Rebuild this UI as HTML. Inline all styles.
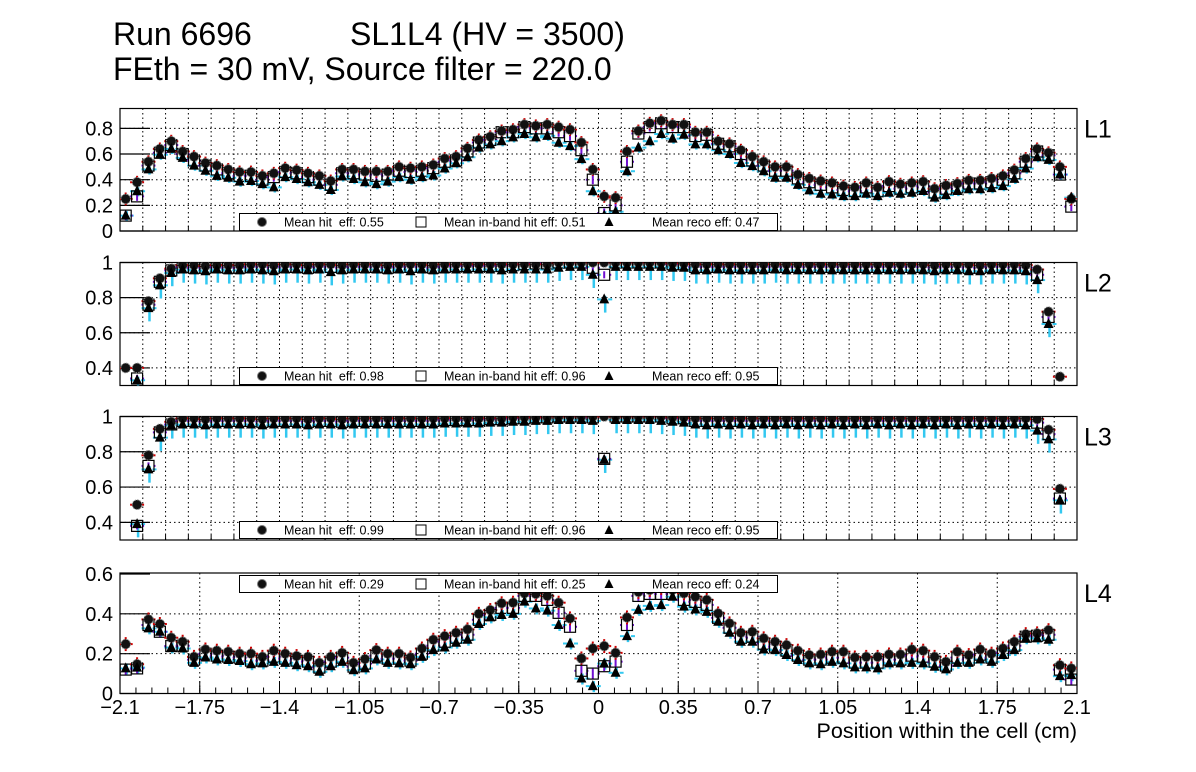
<!DOCTYPE html>
<html><head><meta charset="utf-8"><style>
html,body{margin:0;padding:0;background:#fff;}
svg{display:block;font-family:"Liberation Sans",sans-serif;}
</style></head><body>
<svg id="c" width="1196" height="772" viewBox="0 0 1196 772" xmlns="http://www.w3.org/2000/svg">
<rect width="1196" height="772" fill="#fff"/>
<text x="113" y="45" font-size="32">Run 6696</text>
<text x="350" y="45" font-size="32">SL1L4 (HV = 3500)</text>
<text x="113" y="80" font-size="32">FEth = 30 mV, Source filter = 220.0</text>
<text x="1077" y="738" font-size="21.5" text-anchor="end">Position within the cell (cm)</text>
<g id="plots"></g>
</svg>
<script>
const binCount = 84;
const xMin = -2.1, xMax = 2.1;
const xTickLabels = ["\u22122.1","\u22121.75","\u22121.4","\u22121.05","\u22120.7","\u22120.35","0","0.35","0.7","1.05","1.4","1.75","2.1"];
const xTickValues = [-2.1,-1.75,-1.4,-1.05,-0.7,-0.35,0,0.35,0.7,1.05,1.4,1.75,2.1];
const layerNames = ["L1","L2","L3","L4"];
const meanHit = ["0.55","0.98","0.99","0.29"];
const meanInband = ["0.51","0.96","0.96","0.25"];
const meanReco = ["0.47","0.95","0.95","0.24"];

const hitL1 = [0.25,0.38,0.54,0.64,0.70,0.62,0.58,0.53,0.51,0.48, 0.46,0.46,0.43,0.45,0.49,0.475,0.45,0.43,0.39,0.48, 0.48,0.465,0.465,0.465,0.50,0.49,0.50,0.515,0.565,0.58, 0.645,0.71,0.735,0.78,0.79,0.83,0.82,0.83,0.81,0.79, 0.69,0.48,0.27,0.26,0.62,0.78,0.84,0.86,0.83,0.83, 0.77,0.77,0.70,0.68,0.63,0.58,0.54,0.50,0.50,0.44, 0.41,0.39,0.375,0.35,0.34,0.375,0.34,0.385,0.365,0.375, 0.385,0.33,0.355,0.37,0.395,0.395,0.41,0.43,0.475,0.565, 0.64,0.61,0.50,0.25];
const inbL1 = [0.12,0.27,0.51,0.61,0.67,0.60,0.55,0.51,0.48,0.45, 0.43,0.43,0.40,0.42,0.46,0.45,0.42,0.40,0.36,0.45, 0.45,0.44,0.43,0.44,0.47,0.46,0.47,0.49,0.54,0.55, 0.62,0.69,0.71,0.77,0.77,0.81,0.80,0.80,0.77,0.74, 0.63,0.40,0.14,0.20,0.54,0.76,0.81,0.84,0.81,0.81, 0.74,0.75,0.68,0.66,0.60,0.55,0.51,0.47,0.47,0.41, 0.38,0.36,0.34,0.32,0.31,0.34,0.31,0.35,0.33,0.34, 0.35,0.30,0.33,0.34,0.37,0.37,0.38,0.40,0.45,0.54, 0.62,0.59,0.44,0.19];
const recoL1 = [0.12,0.31,0.48,0.595,0.64,0.57,0.51,0.47,0.43,0.415, 0.385,0.39,0.365,0.34,0.42,0.405,0.38,0.36,0.32,0.425, 0.405,0.38,0.365,0.385,0.42,0.40,0.42,0.433,0.487,0.528, 0.575,0.65,0.675,0.70,0.73,0.756,0.73,0.742,0.688,0.662, 0.56,0.31,0.12,0.15,0.466,0.65,0.70,0.756,0.72,0.75, 0.675,0.675,0.63,0.60,0.53,0.506,0.466,0.415,0.415,0.36, 0.317,0.29,0.285,0.272,0.272,0.29,0.272,0.298,0.29,0.298, 0.312,0.26,0.28,0.312,0.325,0.325,0.334,0.35,0.406,0.487, 0.575,0.554,0.44,0.26];

const hitL2 = [0.40,0.40,0.78,0.91,0.965,0.985,0.985,0.98,0.985,0.985, 0.985,0.99,0.99,0.985,0.99,0.99,0.985,0.99,0.99,0.985, 0.99,0.99,0.99,0.985,0.99,0.99,0.99,0.985,0.99,0.99, 0.99,0.99,0.99,0.99,0.99,0.99,0.99,0.99,1.0,1.0, 1.0,1.0,1.0,1.0,1.0,1.0,1.0,1.0,0.995,0.995, 0.99,0.99,0.99,0.99,0.99,0.99,0.99,0.99,0.99,0.99, 0.99,0.99,0.99,0.99,0.99,0.99,0.99,0.99,0.99,0.99, 0.99,0.985,0.99,0.99,0.99,0.985,0.99,0.99,0.99,0.985, 0.96,0.72,0.35,null];
const inbL2 = [null,0.34,0.76,0.89,0.955,0.975,0.97,0.97,0.975,0.97, 0.97,0.975,0.975,0.97,0.975,0.975,0.97,0.975,0.975,0.97, 0.975,0.975,0.975,0.97,0.975,0.975,0.975,0.97,0.975,0.98, 0.98,0.98,0.98,0.98,0.985,0.99,0.995,0.995,1.0,1.0, 1.0,0.97,0.93,1.0,1.0,1.0,1.0,1.0,0.99,0.99, 0.975,0.975,0.975,0.975,0.975,0.975,0.975,0.975,0.975,0.975, 0.975,0.975,0.975,0.975,0.975,0.975,0.975,0.975,0.975,0.975, 0.975,0.97,0.975,0.975,0.97,0.97,0.975,0.975,0.97,0.97, 0.93,0.69,null,null];
const recoL2 = [null,0.33,0.74,0.87,0.94,0.96,0.955,0.95,0.96,0.955, 0.955,0.96,0.955,0.95,0.96,0.96,0.955,0.96,0.945,0.955, 0.96,0.96,0.96,0.955,0.96,0.95,0.96,0.955,0.96,0.96, 0.96,0.96,0.96,0.955,0.96,0.96,0.96,0.96,0.97,0.975, 0.975,0.93,0.79,0.975,0.975,0.975,0.975,0.975,0.97,0.97, 0.955,0.955,0.96,0.955,0.955,0.955,0.955,0.96,0.955,0.955, 0.955,0.955,0.955,0.955,0.955,0.955,0.955,0.955,0.955,0.955, 0.955,0.95,0.955,0.955,0.95,0.95,0.955,0.955,0.955,0.95, 0.90,0.65,null,null];

const hitL3 = [null,0.50,0.78,0.93,0.97,0.99,0.99,0.985,0.99,0.99, 0.99,0.99,0.985,0.99,0.99,0.99,0.985,0.99,0.99,0.985, 0.99,0.99,0.99,0.99,0.99,0.99,0.99,0.99,0.99,0.99, 0.99,0.99,0.99,0.99,0.995,0.995,0.995,0.995,1.0,1.0, 1.0,1.0,1.0,1.0,1.0,1.0,1.0,1.0,0.995,0.995, 0.99,0.99,0.99,0.99,0.99,0.99,0.99,0.99,0.99,0.99, 0.99,0.99,0.99,0.99,0.99,0.99,0.99,0.99,0.99,0.99, 0.99,0.99,0.99,0.99,0.99,0.99,0.99,0.99,0.99,0.99, 0.985,0.925,0.59,null];
const inbL3 = [null,0.38,0.72,0.91,0.955,0.975,0.975,0.97,0.975,0.975, 0.975,0.975,0.97,0.975,0.975,0.975,0.97,0.975,0.975,0.97, 0.975,0.975,0.975,0.975,0.975,0.975,0.975,0.975,0.98,0.98, 0.98,0.98,0.985,0.985,0.99,0.99,0.995,0.995,1.0,1.0, 1.0,0.995,0.76,1.0,1.0,1.0,1.0,1.0,0.99,0.99, 0.975,0.975,0.975,0.975,0.975,0.975,0.975,0.975,0.975,0.975, 0.975,0.975,0.975,0.975,0.975,0.975,0.975,0.975,0.975,0.975, 0.975,0.975,0.975,0.975,0.975,0.975,0.975,0.975,0.975,0.975, 0.965,0.90,0.535,null];
const recoL3 = [null,0.39,0.70,0.88,0.95,0.955,0.955,0.95,0.955,0.955, 0.955,0.955,0.95,0.955,0.955,0.955,0.95,0.955,0.955,0.95, 0.955,0.955,0.955,0.955,0.955,0.955,0.955,0.955,0.96,0.96, 0.96,0.96,0.965,0.965,0.97,0.97,0.975,0.975,0.98,0.98, 0.98,0.975,0.755,0.98,0.98,0.98,0.98,0.975,0.97,0.965, 0.955,0.95,0.955,0.95,0.955,0.95,0.955,0.95,0.955,0.95, 0.955,0.95,0.955,0.95,0.955,0.95,0.955,0.95,0.955,0.95, 0.955,0.95,0.955,0.95,0.955,0.95,0.955,0.95,0.955,0.95, 0.92,0.87,0.525,null];

const hitL4 = [0.248,0.147,0.372,0.349,0.28,0.26,0.184,0.221,0.215,0.21, 0.20,0.20,0.184,0.215,0.20,0.188,0.184,0.154,0.184,0.204, 0.154,0.173,0.218,0.20,0.20,0.181,0.226,0.27,0.288,0.305, 0.322,0.40,0.419,0.453,0.456,0.503,0.50,0.49,0.456,0.377, 0.176,0.226,0.238,0.204,0.382,0.51,0.52,0.53,0.52,0.503, 0.486,0.47,0.402,0.352,0.305,0.31,0.277,0.26,0.243,0.215, 0.193,0.196,0.21,0.21,0.181,0.184,0.184,0.196,0.196,0.221, 0.215,0.184,0.159,0.21,0.193,0.221,0.20,0.226,0.26,0.298, 0.302,0.318,0.142,0.126];
const inbL4 = [0.12,0.126,0.344,0.31,0.238,0.24,0.17,0.2,0.19,0.185, 0.18,0.165,0.165,0.185,0.175,0.165,0.16,0.13,0.16,0.18, 0.135,0.15,0.19,0.175,0.175,0.165,0.2,0.24,0.26,0.28, 0.295,0.37,0.395,0.43,0.43,0.49,0.49,0.47,0.405,0.335, 0.114,0.10,0.137,0.16,0.344,0.49,0.50,0.50,0.50,0.47, 0.46,0.445,0.38,0.33,0.28,0.285,0.25,0.235,0.215,0.19, 0.17,0.17,0.18,0.18,0.155,0.155,0.155,0.17,0.17,0.19, 0.185,0.16,0.14,0.18,0.17,0.195,0.18,0.205,0.24,0.285, 0.29,0.295,0.12,0.07];
const recoL4 = [0.126,0.13,0.327,0.31,0.231,0.226,0.154,0.181,0.171,0.168, 0.163,0.147,0.151,0.159,0.154,0.142,0.137,0.109,0.137,0.159, 0.117,0.126,0.171,0.154,0.151,0.147,0.184,0.218,0.231,0.255, 0.27,0.349,0.382,0.394,0.40,0.461,0.427,0.416,0.344,0.251, 0.075,0.037,0.15,0.104,0.288,0.42,0.44,0.444,0.486,0.436, 0.422,0.41,0.36,0.305,0.26,0.26,0.221,0.218,0.193,0.168, 0.151,0.147,0.159,0.151,0.131,0.131,0.126,0.151,0.151,0.154, 0.151,0.134,0.121,0.154,0.154,0.171,0.159,0.193,0.218,0.277, 0.277,0.27,0.087,0.092];

const yTicksL1 = [0,0.2,0.4,0.6,0.8];
const yTicksL23 = [0.4,0.6,0.8,1];
const yTicksL4 = [0,0.2,0.4,0.6];

const NS = "http://www.w3.org/2000/svg";
const root = document.getElementById('plots');
function mk(tag, attrs, parent){ const e=document.createElementNS(NS,tag); for(const k in attrs) e.setAttribute(k,attrs[k]); (parent||root).appendChild(e); return e; }

const X0 = 120, X1 = 1077;
function xScale(v){ return X0 + (v - xMin)/(xMax - xMin)*(X1 - X0); }
function binCenter(i){ return xMin + (i+0.5)*(xMax-xMin)/binCount; }

const panels = [
 {top:108.5, bot:231, ymin:0, ymax:0.955, ticks:yTicksL1, hit:hitL1, inb:inbL1, reco:recoL1, legY:213, grid:'fine', eh:0.05, ei:0.035, er:0.035, erLow:0.04},
 {top:262.5, bot:385.5, ymin:0.3, ymax:1.0, ticks:yTicksL23, hit:hitL2, inb:inbL2, reco:recoL2, legY:367, grid:'fine', eh:0.02, ei:0.02, er:0.02, erLow:0.075},
 {top:416.5, bot:540, ymin:0.3, ymax:1.0, ticks:yTicksL23, hit:hitL3, inb:inbL3, reco:recoL3, legY:521, grid:'fine', eh:0.02, ei:0.02, er:0.02, erLow:0.075},
 {top:573, bot:693.5, ymin:0, ymax:0.605, ticks:yTicksL4, hit:hitL4, inb:inbL4, reco:recoL4, legY:575, grid:'coarse', eh:0.035, ei:0.025, er:0.025, erLow:0.03}
];

panels.forEach((p,pi)=>{
  const g = mk('g',{});
  
  
  const yS = v => p.bot - (v - p.ymin)/(p.ymax - p.ymin)*(p.bot - p.top);
  const clipId = 'clip'+pi;
  const cp = mk('clipPath',{id:clipId}, g);
  mk('rect',{x:X0,y:p.top,width:X1-X0,height:p.bot-p.top}, cp);
  const gridVals = [];
  if(p.grid==='fine'){ for(let k=-20;k<=20;k++) gridVals.push(k/10); }
  else { xTickValues.forEach(v=>gridVals.push(v)); }
  gridVals.forEach(v=>{
    const x = xScale(v);
    if(x<=X0+1||x>=X1-1) return;
    const l = mk('line',{x1:x,x2:x,y1:p.top,y2:p.bot,stroke:'#000','stroke-width':1,'stroke-dasharray':'1.5,3'}, g);
    
    
    const t = mk('line',{x1:x,x2:x,y1:p.bot,y2:p.bot-(p.grid==='fine'?5:12),stroke:'#000','stroke-width':1}, g);
    
    
  });
  if(p.grid==='coarse'){
    for(let k=0;k<=60;k++){ const v=-2.1+k*0.07; const x=xScale(v); if(x<=X0+1||x>=X1-1) continue;
      const t = mk('line',{x1:x,x2:x,y1:p.bot,y2:p.bot-6,stroke:'#000','stroke-width':1}, g);
      
      
    }
  }
  p.ticks.forEach(v=>{
    const y = yS(v);
    if(y>p.top+1 && y<p.bot-1){
      const l = mk('line',{x1:X0,x2:X1,y1:y,y2:y,stroke:'#000','stroke-width':1,'stroke-dasharray':'1.5,3'}, g);
      
      
    }
    const t = mk('line',{x1:X0,x2:X0+30,y1:y,y2:y,stroke:'#000','stroke-width':1.2}, g);
    
    
    const tx = mk('text',{x:113,y:y+7,'font-size':20,'text-anchor':'end'}, g);
    tx.textContent = String(v);
    
    
  });
  const frame = mk('rect',{x:X0,y:p.top,width:X1-X0,height:p.bot-p.top,fill:'none',stroke:'#000','stroke-width':1.2}, g);
  
  

  const mg = mk('g',{'clip-path':'url(#'+clipId+')'}, g);
  for(let i=0;i<binCount;i++){
    const x = xScale(binCenter(i));
    const h=p.hit[i], s=p.inb[i], r=p.reco[i];
    if(r!=null){
      const e = mk('line',{x1:x+1,x2:x+1,y1:yS(r+p.er),y2:yS(r-p.erLow),stroke:'#33c8f0','stroke-width':2.5}, mg);
      
      
      mk('line',{x1:x-7,x2:x-3,y1:yS(r),y2:yS(r),stroke:'#33c8f0','stroke-width':2}, mg);
      mk('line',{x1:x+4,x2:x+8,y1:yS(r),y2:yS(r),stroke:'#33c8f0','stroke-width':2}, mg);
    }
    if(s!=null){
      const e = mk('line',{x1:x,x2:x,y1:yS(s+p.ei),y2:yS(s-p.ei),stroke:'#7010d0','stroke-width':2}, mg);
      
      
      mk('line',{x1:x-7,x2:x-5,y1:yS(s),y2:yS(s),stroke:'#7010d0','stroke-width':2}, mg);
      mk('line',{x1:x+5,x2:x+7,y1:yS(s),y2:yS(s),stroke:'#7010d0','stroke-width':2}, mg);
    }
    if(h!=null){
      const e = mk('line',{x1:x,x2:x,y1:yS(h+p.eh),y2:yS(h-p.eh),stroke:'#cc0000','stroke-width':2}, mg);
      
      
      mk('line',{x1:x-7,x2:x+7,y1:yS(h),y2:yS(h),stroke:'#cc0000','stroke-width':2}, mg);
    }
    if(s!=null){
      const q = mk('rect',{x:x-5.5,y:yS(s)-5.5,width:11,height:11,fill:'none',stroke:'#000','stroke-width':1.2}, mg);
      
      
    }
    if(h!=null){
      const c = mk('circle',{cx:x,cy:yS(h),r:4.8,fill:'#111',stroke:'#888','stroke-width':1,'stroke-dasharray':'1.5,1'}, mg);
      
      
    }
    if(r!=null){
      const y=yS(r);
      const t = mk('polygon',{points:`${x},${y-6} ${x-5},${y+4} ${x+5},${y+4}`,fill:'#000'}, mg);
      
      
    }
  }
  const lg = mk('g',{}, g);
  
  
  const ly = p.legY;
  mk('rect',{x:239.5,y:ly+0.5,width:538,height:17,fill:'#fff',stroke:'#000','stroke-width':1}, lg);
  const cy = ly+9;
  const c1 = mk('circle',{cx:262,cy:cy,r:4.5,fill:'#111',stroke:'#777','stroke-width':1}, lg);
  
  
  const t1 = mk('text',{x:284,y:cy+4.5,'font-size':12.5}, lg);
  t1.textContent = 'Mean hit\u00a0\u00a0eff: '+meanHit[pi];
  
  
  const s1 = mk('rect',{x:416,y:cy-5,width:10,height:10,fill:'none',stroke:'#000','stroke-width':1}, lg);
  
  
  const t2 = mk('text',{x:444,y:cy+4.5,'font-size':12.5}, lg);
  t2.textContent = 'Mean in-band hit eff: '+meanInband[pi];
  
  
  const tr = mk('polygon',{points:`609,${cy-5} 604.5,${cy+4} 613.5,${cy+4}`,fill:'#000'}, lg);
  
  
  const t3 = mk('text',{x:652,y:cy+4.5,'font-size':12.5}, lg);
  t3.textContent = 'Mean reco eff: '+meanReco[pi];
  
  
  const ll = mk('text',{x:1084,y:p.top+29,'font-size':25}, g);
  ll.textContent = layerNames[pi];
  
  
});
xTickValues.forEach((v,k)=>{
  const t = mk('text',{x:xScale(v),y:714,'font-size':20,'text-anchor':'middle'});
  t.textContent = xTickLabels[k];
  
  
});
</script>
</body></html>
